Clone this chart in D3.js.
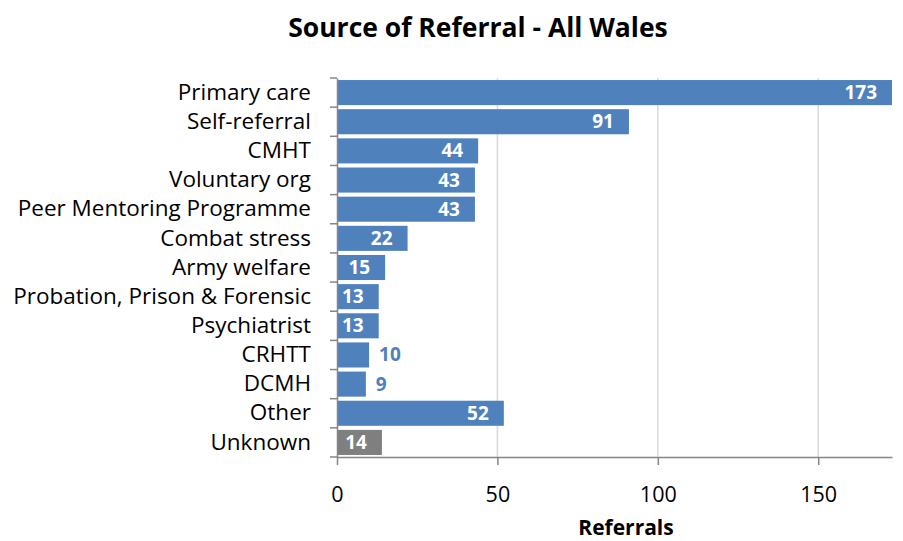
<!DOCTYPE html>
<html>
<head>
<meta charset="utf-8">
<script src="https://cdn.jsdelivr.net/npm/d3@7"></script>
<style>
body { margin:0; background:#fff; }
text { font-family: "Open Sans", sans-serif; }
</style>
</head>
<body>
<div id="chart"></div>
<script>
// data
var categories = ["Primary care", "Self-referral", "CMHT", "Voluntary org", "Peer Mentoring Programme",
  "Combat stress", "Army welfare", "Probation, Prison & Forensic", "Psychiatrist", "CRHTT", "DCMH", "Other", "Unknown"];
var referrals = [173, 91, 44, 43, 43, 22, 15, 13, 13, 10, 9, 52, 14];
var xTicks = [0, 50, 100, 150];

var W = 903, H = 541;
var m = {top: 78, left: 337, right: 11, bottom: 84};

var svg = d3.select("#chart").append("svg")
  .attr("width", W).attr("height", H);

var x = d3.scaleLinear().domain([0, 173]).range([m.left, W - m.right]);
var y = d3.scaleBand().domain(categories).range([m.top, H - m.bottom]).paddingInner(0.14).paddingOuter(0.07);

// title
svg.append("text")
  .attr("x", 478).attr("y", 37)
  .attr("text-anchor", "middle")
  .style("font-size", "26.5px").style("font-weight", "bold")
  .text("Source of Referral - All Wales");

// gridlines
svg.selectAll(".grid").data(xTicks.slice(1)).enter().append("line")
  .attr("x1", function(d){ return x(d); }).attr("x2", function(d){ return x(d); })
  .attr("y1", m.top).attr("y2", H - m.bottom)
  .attr("stroke", "#d9d9d9").attr("stroke-width", 1.5);

// bars
svg.selectAll(".bar").data(referrals).enter().append("rect")
  .attr("x", x(0))
  .attr("y", function(d, i){ return y(categories[i]); })
  .attr("width", function(d){ return x(d) - x(0); })
  .attr("height", y.bandwidth())
  .attr("fill", function(d, i){ return categories[i] == "Unknown" ? "#7f7f7f" : "#4f81bd"; });

// value labels
svg.selectAll(".val").data(referrals).enter().append("text")
  .attr("x", function(d){ return d < 12 ? x(d) + 10 : x(d) - 15; })
  .attr("y", function(d, i){ return y(categories[i]) + y.bandwidth() / 2 + 6.5; })
  .attr("text-anchor", function(d){ return d < 12 ? "start" : "end"; })
  .attr("fill", function(d){ return d < 12 ? "#4f81bd" : "#fff"; })
  .style("font-size", "19px").style("font-weight", "bold")
  .text(function(d){ return d; });

// y axis
var ya = d3.axisLeft(y).tickSize(0).tickPadding(26);
var yg = svg.append("g").attr("transform", "translate(" + m.left + ",0)").call(ya);
yg.select(".domain").attr("stroke", "#868686").attr("stroke-width", 1.5);
yg.selectAll("text").style("font-size", "22.5px").attr("fill", "#000").attr("font-family", null);
// band boundary ticks
var bounds = d3.range(categories.length + 1).map(function(i){
  return m.top + i * (H - m.bottom - m.top) / categories.length;
});
svg.selectAll(".ytick").data(bounds).enter().append("line")
  .attr("x1", m.left - 7).attr("x2", m.left)
  .attr("y1", function(d){ return d; }).attr("y2", function(d){ return d; })
  .attr("stroke", "#868686").attr("stroke-width", 1.5);

// x axis
var xa = d3.axisBottom(x).tickValues(xTicks).tickSize(8).tickPadding(22).tickSizeOuter(0);
var xg = svg.append("g").attr("transform", "translate(0," + (H - m.bottom) + ")").call(xa);
xg.select(".domain").attr("stroke", "#868686").attr("stroke-width", 1.5);
xg.selectAll("line").attr("stroke", "#868686").attr("stroke-width", 1.5);
xg.selectAll("text").style("font-size", "21.5px").attr("fill", "#000").attr("font-family", null);

svg.append("text")
  .attr("x", 626).attr("y", 535)
  .attr("text-anchor", "middle")
  .style("font-size", "21px").style("font-weight", "bold")
  .text("Referrals");
</script>
</body>
</html>
